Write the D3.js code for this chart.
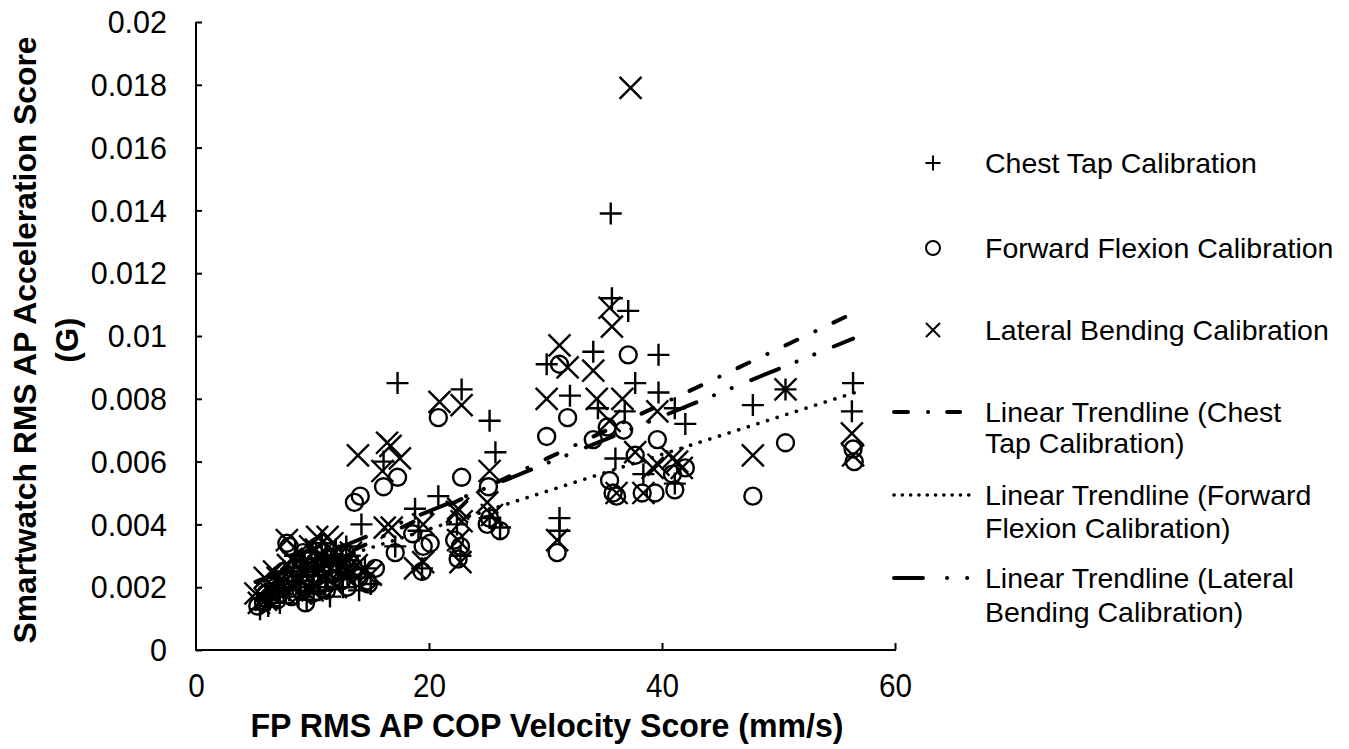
<!DOCTYPE html>
<html>
<head>
<meta charset="utf-8">
<script src="https://cdn.jsdelivr.net/npm/d3@7"></script>
<style>
  html, body { margin: 0; padding: 0; background: #fff; }
  svg { display: block; }
  text { font-family: "Liberation Sans", Arial, sans-serif; fill: #000; }
  .title { font-family: "Liberation Sans Narrow", "Arial Narrow", "Liberation Sans", Arial, sans-serif; font-weight: bold; }
</style>
</head>
<body>
<svg id="chart" width="1349" height="749"></svg>
<script>
// Chest Tap Calibration: [velocity (mm/s), acceleration (G)]
const chestTap = [
  [35.6,0.0139],[35.7,0.0112],[37.1,0.0108],[39.7,0.0094],[34.1,0.0095],[30.1,0.0091],
  [37.7,0.0085],[39.7,0.0082],[32.1,0.0081],[34.5,0.0077],[41.1,0.0077],[42.0,0.0072],
  [47.8,0.0078],[50.6,0.0083],[56.4,0.0085],[56.3,0.0076],[36.0,0.0061],[38.4,0.0056],
  [41.1,0.0053],[17.3,0.0085],[22.8,0.0083],[25.2,0.0073],[25.7,0.0063],[16.1,0.0060],
  [20.8,0.0049],[18.8,0.0045],[31.2,0.0042],[31.2,0.0038],[14.2,0.0040],[22.4,0.0040],
  [17.1,0.0033],[19.1,0.0038],[22.7,0.0030],[26.1,0.0039],[25.2,0.0042],[19.4,0.0026],
  [7.6,0.0025],[36.8,0.0076],[13.2,0.0030],
  [5.5,0.0013],[6.0,0.0016],[6.5,0.0018],[7.2,0.0015],[7.5,0.0021],[8.0,0.0019],
  [8.3,0.0025],[8.8,0.0017],[9.0,0.0022],[9.3,0.0028],[9.7,0.0020],[10.0,0.0024],
  [10.3,0.0031],[10.6,0.0019],[11.0,0.0027],[11.3,0.0022],[11.8,0.0030],[12.2,0.0025],
  [12.6,0.0020],[13.6,0.0023],[14.5,0.0026],[15.0,0.0021],[8.5,0.0030],[10.8,0.0034],
  [12.0,0.0032],[6.8,0.0023],[9.5,0.0016],[11.5,0.0017],[14.0,0.0019],
  [7.0,0.0019],[8.6,0.0021],[9.1,0.0026],[9.9,0.0029],[10.5,0.0025],[11.1,0.0020],
  [11.6,0.0028],[12.4,0.0027],[13.0,0.0024],[6.2,0.0014],[10.1,0.0018],[12.9,0.0033]
];

// Forward Flexion Calibration
const forwardFlexion = [
  [20.8,0.0074],[31.2,0.0091],[37.1,0.0094],[31.9,0.0074],[30.1,0.0068],[22.8,0.0055],
  [34.1,0.0067],[35.3,0.0071],[36.7,0.0070],[39.6,0.0067],[37.7,0.0062],[35.5,0.0054],
  [35.8,0.0050],[38.3,0.0050],[39.4,0.0050],[41.1,0.0051],[25.1,0.0052],[25.2,0.0042],
  [26.1,0.0038],[17.3,0.0055],[16.1,0.0052],[14.1,0.0049],[18.6,0.0037],[20.1,0.0034],
  [50.6,0.0066],[47.8,0.0049],[56.4,0.0064],[56.5,0.0060],[42.0,0.0058],[40.9,0.0056],
  [17.1,0.0031],[19.5,0.0033],[19.4,0.0025],[22.2,0.0035],[22.7,0.0033],[22.5,0.0029],
  [25.0,0.0040],[14.7,0.0022],[15.4,0.0026],[7.8,0.0034],[13.6,0.0047],[31.0,0.0031],
  [36.1,0.0049],
  [5.3,0.0014],[5.8,0.0015],[6.3,0.0017],[6.8,0.0020],[7.2,0.0018],[7.7,0.0022],
  [8.2,0.0017],[8.6,0.0026],[9.0,0.0019],[9.4,0.0015],[9.8,0.0023],[10.2,0.0028],
  [10.5,0.0021],[10.9,0.0031],[11.2,0.0019],[11.6,0.0025],[12.1,0.0028],[12.5,0.0022],
  [13.0,0.0020],[13.5,0.0026],[14.0,0.0023],[14.8,0.0021],[8.0,0.0033],[9.6,0.0029],
  [10.4,0.0033],[12.8,0.0031],
  [6.0,0.0018],[7.0,0.0016],[7.5,0.0025],[8.9,0.0024],[9.2,0.0031],[10.0,0.0018],
  [10.7,0.0026],[11.4,0.0029],[11.9,0.0022],[12.3,0.0025],[13.2,0.0028],[9.5,0.0021]
];

// Lateral Bending Calibration
const lateralBending = [
  [37.3,0.0179],[35.5,0.0109],[35.7,0.0103],[31.2,0.0097],[31.9,0.0090],[34.1,0.0089],
  [30.1,0.0080],[34.4,0.0080],[36.6,0.0080],[39.6,0.0076],[37.7,0.0063],[39.7,0.0059],
  [41.3,0.0060],[41.7,0.0058],[35.5,0.0073],[20.9,0.0079],[22.8,0.0078],[16.7,0.0065],
  [17.5,0.0061],[16.4,0.0066],[13.9,0.0062],[25.2,0.0057],[16.0,0.0057],[22.4,0.0044],
  [16.2,0.0039],[19.5,0.0040],[22.5,0.0045],[22.5,0.0035],[31.0,0.0035],[36.1,0.0050],
  [38.4,0.0050],[40.9,0.0061],[39.2,0.0058],[47.8,0.0062],[50.6,0.0083],[56.3,0.0069],
  [56.4,0.0062],[16.8,0.0039],[18.8,0.0026],[19.5,0.0028],[22.7,0.0028],[22.8,0.0041],
  [25.4,0.0043],[25.0,0.0047],[7.8,0.0035],[10.4,0.0036],[11.3,0.0036],[5.1,0.0018],
  [5.9,0.0023],
  [5.4,0.0015],[6.2,0.0019],[6.7,0.0025],[7.3,0.0021],[7.9,0.0027],[8.4,0.0020],
  [8.9,0.0031],[9.3,0.0024],[9.8,0.0033],[10.1,0.0021],[10.7,0.0029],[11.1,0.0024],
  [11.7,0.0034],[12.2,0.0030],[12.7,0.0024],[13.3,0.0031],[13.8,0.0027],[14.4,0.0025],
  [15.0,0.0024],[9.0,0.0018],[12.0,0.0020],
  [6.0,0.0016],[7.0,0.0023],[7.6,0.0018],[8.2,0.0029],[8.7,0.0023],[9.6,0.0027],
  [10.3,0.0032],[10.9,0.0026],[11.4,0.0030],[12.4,0.0027],[13.0,0.0026],[10.0,0.0019]
];

// Linear trendlines: slope, intercept and the x span they cover
const trendSlope = [0.000176, 0.000119, 0.000151];
const trendIntercept = [0.000796, 0.00147, 0.00140];
const trendStart = [5.3, 5.3, 5.1];
const trendEnd = [56.3, 56.5, 56.4];

const seriesNames = ["Chest Tap Calibration", "Forward Flexion Calibration", "Lateral Bending Calibration"];
const trendLabelLines = [
  ["Linear Trendline (Chest", "Tap Calibration)"],
  ["Linear Trendline (Forward", "Flexion Calibration)"],
  ["Linear Trendline (Lateral", "Bending Calibration)"]
];
const xTicks = [0, 20, 40, 60];
const yTicks = [0, 0.002, 0.004, 0.006, 0.008, 0.01, 0.012, 0.014, 0.016, 0.018, 0.02];
const yTickLabels = ["0", "0.002", "0.004", "0.006", "0.008", "0.01", "0.012", "0.014", "0.016", "0.018", "0.02"];
const xTitle = "FP RMS AP COP Velocity Score (mm/s)";
const yTitleLines = ["Smartwatch RMS AP Acceleration Score", "(G)"];

const svg = d3.select("#chart");
const x = d3.scaleLinear().domain([0, 60]).range([196, 895]);
const y = d3.scaleLinear().domain([0, 0.02]).range([650, 22]);

// Marker shapes
const plusPath = (cx, cy, s) => `M${cx - s},${cy}H${cx + s}M${cx},${cy - s}V${cy + s}`;
const crossPath = (cx, cy, s) => `M${cx - s},${cy - s}L${cx + s},${cy + s}M${cx + s},${cy - s}L${cx - s},${cy + s}`;

// Axes (ticks point inward)
const yAxis = d3.axisLeft(y).tickValues(yTicks).tickSize(-6).tickFormat((d, i) => yTickLabels[i]);
const gy = svg.append("g").attr("transform", "translate(196,0)").call(yAxis);
gy.select(".domain").attr("stroke", "#000").attr("stroke-width", 2).attr("d", "M0,22V651");
gy.selectAll(".tick line").attr("stroke", "#000").attr("stroke-width", 2);
gy.selectAll(".tick text").attr("x", -29).attr("dy", "0.35em").style("font-size", "30.5px").style("font-family", "'Liberation Sans', Arial, sans-serif");

const xAxis = d3.axisBottom(x).tickValues(xTicks).tickSize(-7).tickFormat(d3.format("d"));
const gx = svg.append("g").attr("transform", "translate(0,650)").call(xAxis);
gx.select(".domain").attr("stroke", "#000").attr("stroke-width", 2).attr("d", "M195,0H896");
gx.selectAll(".tick line").attr("stroke", "#000").attr("stroke-width", 2);
gx.selectAll(".tick text").attr("y", 47).attr("dy", 0).style("font-size", "34px")
  .style("font-family", "'Liberation Sans', Arial, sans-serif")
  .attr("textLength", d => String(d).length * 16.5).attr("lengthAdjust", "spacingAndGlyphs");
gx.selectAll(".tick").filter(d => d === 0).select("line").remove();

// Axis titles
svg.append("text").attr("class", "title")
  .attr("x", 547).attr("y", 737).attr("text-anchor", "middle")
  .attr("textLength", 593).attr("lengthAdjust", "spacingAndGlyphs")
  .style("font-size", "34px").text(xTitle);

const yt = svg.append("g").attr("transform", "translate(0,340) rotate(-90)");
yt.append("text").attr("class", "title").attr("x", 0).attr("y", 36)
  .attr("text-anchor", "middle").attr("textLength", 607).attr("lengthAdjust", "spacingAndGlyphs")
  .style("font-size", "31px").text(yTitleLines[0]);
yt.append("text").attr("class", "title").attr("x", 0).attr("y", 78)
  .attr("text-anchor", "middle").style("font-size", "31px").text(yTitleLines[1]);

// Scatter markers
const plot = svg.append("g").attr("fill", "none").attr("stroke", "#000").attr("stroke-width", 2.4);
plot.selectAll("path.chest").data(chestTap).join("path").attr("class", "chest")
  .attr("d", d => plusPath(x(d[0]), y(d[1]), 11));
plot.selectAll("circle.fwd").data(forwardFlexion).join("circle").attr("class", "fwd")
  .attr("cx", d => x(d[0])).attr("cy", d => y(d[1])).attr("r", 8.5);
plot.selectAll("path.lat").data(lateralBending).join("path").attr("class", "lat")
  .attr("d", d => crossPath(x(d[0]), y(d[1]), 11));

// Trendlines
const trendDash = ["13,20,0.1,20", "0.1,10", "30,19,0.1,19,0.1,21"];
const trendWidth = [4, 3.6, 4];
const line = d3.line().x(d => x(d[0])).y(d => y(d[1]));
trendSlope.forEach((m, i) => {
  const pts = [trendStart[i], trendEnd[i]].map(v => [v, trendIntercept[i] + m * v]);
  svg.append("path").datum(pts).attr("d", line)
    .attr("fill", "none").attr("stroke", "#000").attr("stroke-width", trendWidth[i])
    .attr("stroke-linecap", "round").attr("stroke-dasharray", trendDash[i]);
});

// Legend
const legend = svg.append("g");
const lx = 933, tx = 985;
const legendFont = "28.5px";
const rowsY = [163, 248, 330];
legend.append("path").attr("d", plusPath(lx, rowsY[0], 7.5)).attr("stroke", "#000").attr("stroke-width", 2);
legend.append("circle").attr("cx", lx).attr("cy", rowsY[1]).attr("r", 7).attr("fill", "none").attr("stroke", "#000").attr("stroke-width", 2);
legend.append("path").attr("d", crossPath(lx, rowsY[2], 7)).attr("stroke", "#000").attr("stroke-width", 2);
seriesNames.forEach((n, i) => {
  legend.append("text").attr("x", tx).attr("y", rowsY[i]).attr("dy", "0.35em").style("font-size", legendFont).text(n);
});

const trendRows = [[412, 443], [495, 528], [578, 612]];
const sampleDash = ["14,20,0.1,19,13,100", "0.1,8.2", "29,24,0.1,20,0.1,100"];
const sampleEnd = [962, 976, 972];
trendRows.forEach((r, i) => {
  legend.append("line").attr("x1", 894).attr("x2", sampleEnd[i]).attr("y1", r[0]).attr("y2", r[0])
    .attr("stroke", "#000").attr("stroke-width", trendWidth[i]).attr("stroke-linecap", "round")
    .attr("stroke-dasharray", sampleDash[i]);
  trendLabelLines[i].forEach((t, j) => {
    legend.append("text").attr("x", tx).attr("y", r[j]).attr("dy", "0.35em").style("font-size", legendFont).text(t);
  });
});
</script>
</body>
</html>
